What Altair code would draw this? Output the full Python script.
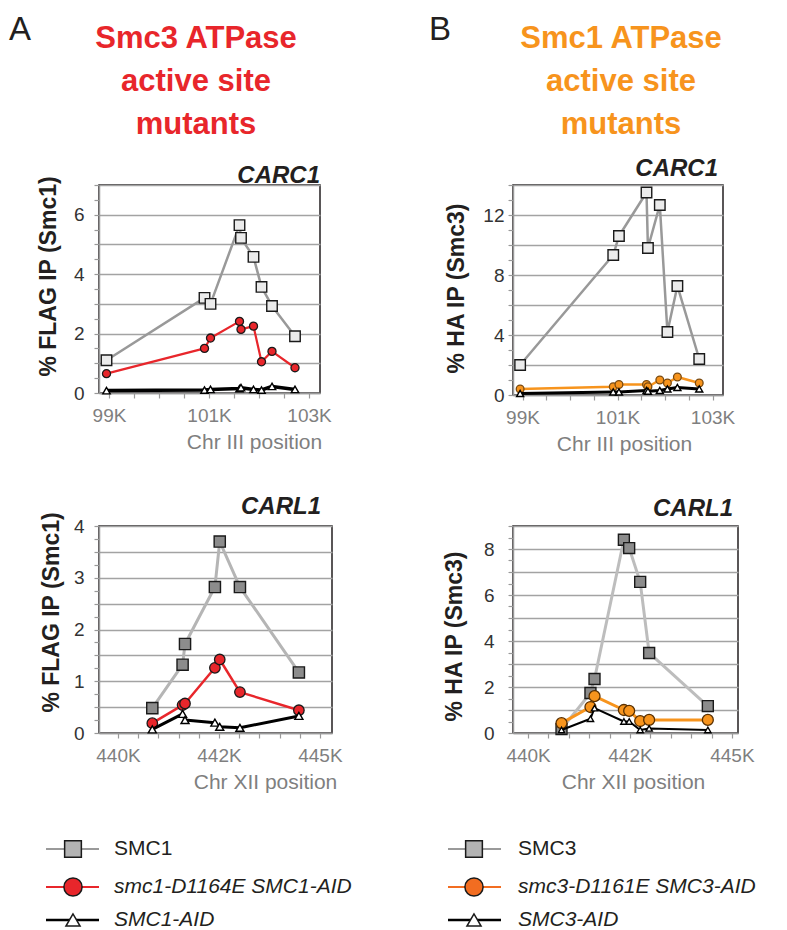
import altair as alt
import pandas as pd

FONT = "Liberation Sans"
INK = "#231f20"

# ---------------- data ----------------
title_a = ["Smc3 ATPase", "active site", "mutants"]
title_b = ["Smc1 ATPase", "active site", "mutants"]

carc1_pos = [98950, 100910, 101030, 101610, 101640, 101890, 102050, 102260, 102720]
carc1_smc1 = [1.10, 3.20, 3.00, 5.65, 5.22, 4.58, 3.57, 2.93, 1.91]
carc1_smc1_mut = [0.65, 1.50, 1.85, 2.41, 2.14, 2.25, 1.05, 1.40, 0.85]
carc1_smc1_aid = [0.08, 0.10, 0.12, 0.15, 0.18, 0.12, 0.10, 0.22, 0.12]

carc1_smc3 = [2.00, 9.33, 10.60, 13.50, 9.80, 12.67, 4.20, 7.27, 2.40]
carc1_smc3_mut = [0.40, 0.55, 0.70, 0.70, 0.55, 1.00, 0.80, 1.20, 0.80]
carc1_smc3_aid = [0.10, 0.20, 0.20, 0.30, 0.25, 0.30, 0.40, 0.50, 0.40]

carl1_pos_a = [440850, 441600, 441660, 442400, 442520, 443020, 444480]
carl1_smc1 = [0.48, 1.32, 1.72, 2.82, 3.70, 2.82, 1.17]
carl1_smc1_mut = [0.19, 0.54, 0.57, 1.26, 1.42, 0.79, 0.44]
carl1_smc1_aid = [0.07, 0.37, 0.25, 0.20, 0.12, 0.10, 0.33]

carl1_pos_b = [440820, 441530, 441630, 442350, 442480, 442750, 442970, 444410]
carl1_smc3 = [0.17, 1.74, 2.35, 8.40, 8.04, 6.57, 3.48, 1.17]
carl1_smc3_mut = [0.43, 1.13, 1.60, 1.00, 0.96, 0.52, 0.57, 0.57]
carl1_smc3_aid = [0.13, 0.62, 1.08, 0.50, 0.50, 0.13, 0.20, 0.13]

carc1_xticks = [99000, 101000, 103000]
carl1_xticks = [440000, 442500, 445000]

legend_a = ["SMC1", "smc1-D1164E SMC1-AID", "SMC1-AID"]
legend_b = ["SMC3", "smc3-D1161E SMC3-AID", "SMC3-AID"]

RED = "#e8262b"
ORANGE = "#f7941d"


def frange(a, b, step):
    out, v = [], a
    while v <= b + 1e-9:
        out.append(round(v, 4))
        v += step
    return out


def panel(pos, wt, mut, aid, c):
    n = len(pos)
    df = pd.DataFrame({
        "pos": pos * 3,
        "value": wt + mut + aid,
        "series": ["wt"] * n + ["mut"] * n + ["aid"] * n,
    })
    majors = c["xmajor"]
    xaxis = alt.Axis(
        values=frange(majors[0], majors[-1], c["xminor"]),
        labelExpr="indexof(" + str(majors) + ", datum.value) >= 0 ? floor(datum.value/1000) + 'K' : ''",
        grid=False, labelFlush=False, labelOverlap=False, labelBound=False,
        labelFont=FONT, labelFontSize=19, labelColor="#7f7f7f", labelPadding=8,
        tickSize=5, tickColor="#999999", tickWidth=1.2,
        domainColor="#999999", domainWidth=1.5,
        title=c["xtitle"], titleFont=FONT, titleFontSize=21, titleFontWeight="normal",
        titleColor="#7f7f7f", titleX=c["xtx"], titleY=55, titleBaseline="alphabetic",
        titleAlign="center",
    )
    yaxis = alt.Axis(
        values=frange(0, c["ydom"][1], c["ytick"]),
        labelExpr="datum.value % " + str(c["ylab"]) + " === 0 ? format(datum.value, 'd') : ''",
        gridOpacity={"condition": {"test": "datum.value % " + str(c["ygrid"]) + " === 0", "value": 1}, "value": 0},
        grid=True, gridColor="#a3a3a3", gridWidth=1.6,
        labelFont=FONT, labelFontSize=19, labelColor="#333333", labelPadding=c["lpad"],
        labelOverlap=False, labelFlush=False, labelBound=False,
        tickSize=5, tickColor="#999999", tickWidth=1.2,
        domainColor="#999999", domainWidth=1.5,
        title=c["ytitle"], titleFont=FONT, titleFontSize=23, titleFontWeight="bold",
        titleColor=INK, titleX=c["ytx"], titleY=c["yty"], titleAngle=270,
        titleBaseline="middle", titleAlign="center",
    )
    xs = alt.X("pos:Q", scale=alt.Scale(domain=c["xdom"], nice=False, zero=False), axis=xaxis)
    ys = alt.Y("value:Q", scale=alt.Scale(domain=c["ydom"], nice=False, zero=True), axis=yaxis)
    layers = []
    for key in ["wt", "mut", "aid"]:
        st = c[key]
        b = alt.Chart(df).transform_filter(alt.datum.series == key)
        layers.append(b.mark_line(color=st["line"], strokeWidth=st["lw"], strokeJoin="round").encode(x=xs, y=ys))
        layers.append(b.mark_point(shape=st["shape"], filled=True, fill=st["fill"], stroke=st["stroke"],
                                   strokeWidth=st["sw"], size=st["size"], opacity=1).encode(x=xs, y=ys))
    gene = alt.Chart(pd.DataFrame({"g": [c["gene"]]})).mark_text(
        align="right", baseline="alphabetic", font=FONT, fontSize=24, fontWeight="bold",
        fontStyle="italic", color=INK,
    ).encode(text="g:N", x=alt.value(c["gx"]), y=alt.value(c["gy"]))
    layers.append(gene)
    return alt.layer(*layers).properties(
        width=c["w"], height=c["h"],
        view=alt.ViewBackground(stroke=INK, strokeWidth=1.5),
    )


def wt_style(line, fill, lw, size):
    return {"line": line, "lw": lw, "shape": "square", "fill": fill, "stroke": "#1a1a1a", "sw": 1.4, "size": size}


def mut_style(color, lw, size, stroke="#1a1a1a"):
    return {"line": color, "lw": lw, "shape": "circle", "fill": color, "stroke": stroke, "sw": 1.3, "size": size}


def aid_style(lw, size):
    return {"line": "#000000", "lw": lw, "shape": "triangle-up", "fill": "#ffffff", "stroke": "#000000", "sw": 1.4, "size": size}


TL = panel(carc1_pos, carc1_smc1, carc1_smc1_mut, carc1_smc1_aid, dict(
    w=221, h=208, xdom=[98800, 103220], xmajor=carc1_xticks, xminor=500, xtitle="Chr III position", xtx=155,
    ydom=[0, 7], ytick=0.5, ylab=2, ygrid=1, lpad=10, ytitle="% FLAG IP (Smc1)", ytx=-51, yty=91,
    gene="CARC1", gx=221, gy=-2,
    wt=wt_style("#999999", "#ebebeb", 2.5, 110), mut=mut_style(RED, 2.2, 65), aid=aid_style(3.5, 55)))

TR = panel(carc1_pos, carc1_smc3, carc1_smc3_mut, carc1_smc3_aid, dict(
    w=210, h=210, xdom=[98800, 103220], xmajor=carc1_xticks, xminor=500, xtitle="Chr III position", xtx=111,
    ydom=[0, 14], ytick=1, ylab=4, ygrid=2, lpad=4, ytitle="% HA IP (Smc3)", ytx=-57, yty=103,
    gene="CARC1", gx=205, gy=-9,
    wt=wt_style("#999999", "#ebebeb", 2.5, 110), mut=mut_style(ORANGE, 2.5, 60, "#7a4a10"), aid=aid_style(3, 50)))

BL = panel(carl1_pos_a, carl1_smc1, carl1_smc1_mut, carl1_smc1_aid, dict(
    w=233, h=207, xdom=[439530, 445300], xmajor=carl1_xticks, xminor=500, xtitle="Chr XII position", xtx=166,
    ydom=[0, 4], ytick=0.25, ylab=1, ygrid=0.5, lpad=10, ytitle="% FLAG IP (Smc1)", ytx=-48, yty=86,
    gene="CARL1", gx=222, gy=-12,
    wt=wt_style("#b5b5b5", "#8c8c8c", 3, 125), mut=mut_style(RED, 2.5, 110), aid=aid_style(3, 65)))

BR = panel(carl1_pos_b, carl1_smc3, carl1_smc3_mut, carl1_smc3_aid, dict(
    w=225, h=207, xdom=[439630, 445150], xmajor=carl1_xticks, xminor=500, xtitle="Chr XII position", xtx=120,
    ydom=[0, 9], ytick=0.5, ylab=2, ygrid=1, lpad=14, ytitle="% HA IP (Smc3)", ytx=-59, yty=110,
    gene="CARL1", gx=220, gy=-10,
    wt=wt_style("#bdbdbd", "#8c8c8c", 3, 120), mut=mut_style(ORANGE, 3, 120, "#5a3000"), aid=aid_style(2, 40)))


def header(letter, lines, color, lx, cx):
    let = alt.Chart(pd.DataFrame({"t": [letter]})).mark_text(
        align="left", baseline="alphabetic", font=FONT, fontSize=33, color=INK,
    ).encode(text="t:N", x=alt.value(lx), y=alt.value(31))
    tl = alt.Chart(pd.DataFrame({"t": ["\n".join(lines)]})).mark_text(
        align="center", baseline="alphabetic", font=FONT, fontSize=31, fontWeight="bold", color=color,
        lineBreak="\n", lineHeight=43,
    ).encode(text="t:N", x=alt.value(cx), y=alt.value(39))
    return alt.layer(let, tl).properties(width=200, height=45)


def legend(labels, mut_color, lx0, lx1, sx, tx):
    df = pd.DataFrame({"label": labels, "row": [0, 1, 2]})
    rows_y = [-15, 23, 56]
    styles = [
        {"line": "#9a9a9a", "lw": 2, "shape": "square", "fill": "#b3b3b3", "size": 280, "italic": "normal"},
        {"line": mut_color, "lw": 2, "shape": "circle", "fill": mut_color, "size": 330, "italic": "italic"},
        {"line": "#000000", "lw": 2.5, "shape": "triangle-up", "fill": "#ffffff", "size": 200, "italic": "italic"},
    ]
    layers = []
    for i, st in enumerate(styles):
        b = alt.Chart(df).transform_filter(alt.datum.row == i)
        yv = alt.value(rows_y[i])
        layers.append(b.mark_rule(color=st["line"], strokeWidth=st["lw"]).encode(
            x=alt.value(lx0), x2=alt.value(lx1), y=yv))
        layers.append(b.mark_point(shape=st["shape"], filled=True, fill=st["fill"], stroke="#1a1a1a",
                                   strokeWidth=1.5, size=st["size"], opacity=1).encode(x=alt.value(sx), y=yv))
        layers.append(b.mark_text(align="left", baseline="middle", font=FONT, fontSize=21,
                                  fontStyle=st["italic"], color=INK).encode(
            x=alt.value(tx), y=yv, text="label:N"))
    return alt.layer(*layers).properties(width=200, height=60)


HA = header("A", title_a, RED, -90, 97)
HB = header("B", title_b, ORANGE, -84, 108)
LA = legend(legend_a, RED, -53, 0, -26, 15)
LB = legend(legend_b, "#f26d21", -65, -12, -39, 5)

chart = alt.concat(
    HA, HB, TL, TR, BL, BR, LA, LB,
    columns=2, spacing={"row": 131, "column": 181}, bounds="flush", align="each",
).properties(padding=0, background="white").configure_view(stroke="transparent")

chart.save("out.html", embed_options={"renderer": "svg", "actions": False})
